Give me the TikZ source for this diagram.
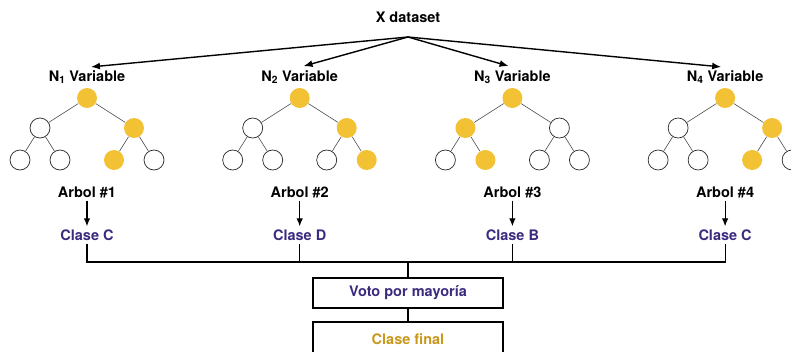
\documentclass[tikz,border=0pt]{standalone}
\usepackage{fontspec}
\setmainfont{TeX Gyre Heros}
\usetikzlibrary{arrows.meta}
\definecolor{purp}{HTML}{3B2A7E}
\definecolor{gold}{HTML}{F2C234}
\definecolor{darkgold}{HTML}{C8981C}

\def\W{212.7}
\def\D{47}
\def\E{20}

\begin{document}
\begin{tikzpicture}[x=1pt,y=-1pt,>={Latex[length=9pt,width=7pt]}]
    \tikzset{
      lbl/.style={font=\bfseries\fontsize{14.5}{16}\selectfont,inner sep=3pt},
      cls/.style={lbl,text=purp},
      leaf/.style={draw=black!85,circle,minimum size=20pt,inner sep=0pt,line width=0.7pt},
      hit/.style={leaf,draw=none,fill=gold},
      box/.style={lbl,draw,line width=1.4pt,minimum width=190pt,minimum height=30pt}
    }
    \useasboundingbox (0,0) rectangle (791,351);

    \node[lbl] (x) at (408,17) {X dataset};
    \coordinate (fork) at (408,37);

    % one tree per sample: root, left, right, then the four leaves
    \foreach \i/\a/\b/\c/\d/\e/\f/\g/\k in {1/hit/leaf/hit/leaf/leaf/hit/leaf/C,
                                           2/hit/leaf/hit/leaf/leaf/leaf/hit/D,
                                           3/hit/hit/leaf/leaf/hit/leaf/leaf/B,
                                           4/hit/leaf/hit/leaf/leaf/hit/leaf/C} {
      \pgfmathsetmacro\X{87+(\i-1)*\W}
      \node[lbl] (n\i) at (\X,77) {N\textsubscript{\i} Variable};
      \node[\a] (r\i) at (\X,98) {};
      \node[\b] (l\i) at (\X-\D,128) {};
      \node[\c] (m\i) at (\X+\D,128) {};
      \node[\d] (ll\i) at (\X-\D-\E,160) {};
      \node[\e] (lr\i) at (\X-\D+\E,160) {};
      \node[\f] (ml\i) at (\X+\D-\E,160) {};
      \node[\g] (mr\i) at (\X+\D+\E,160) {};
      \path[draw=black!70,line width=0.6pt] (r\i) edge (l\i) edge (m\i)
        (l\i) edge (ll\i) edge (lr\i) (m\i) edge (ml\i) edge (mr\i);
      \node[lbl] (a\i) at (\X,192) {Arbol \#\i};
      \node[cls] (c\i) at (\X,235) {Clase \k};
      \draw[->,line width=1.4pt,shorten >=4pt] (fork) -- (n\i.north);
      \draw[->,line width=1.2pt,>={Latex[length=8pt,width=6.5pt]}] (a\i) -- (c\i);
    }

    \node[box,text=purp] (vote) at (408,293) {Voto por mayoría};
    \node[box,text=darkgold,minimum height=34pt] (final) at (408,339) {Clase final};
    \coordinate (bus) at (408,262);

    \draw[line width=1.2pt] (c1.south) |- (bus) (c4.south) |- (bus);
    \draw[line width=1.2pt] (c2.south) -- (c2.south |- bus);
    \draw[line width=1.2pt] (c3.south) -- (c3.south |- bus);
    \draw[line width=1.2pt] (bus) -- (vote) -- (final);
  \end{tikzpicture}
\end{document}
